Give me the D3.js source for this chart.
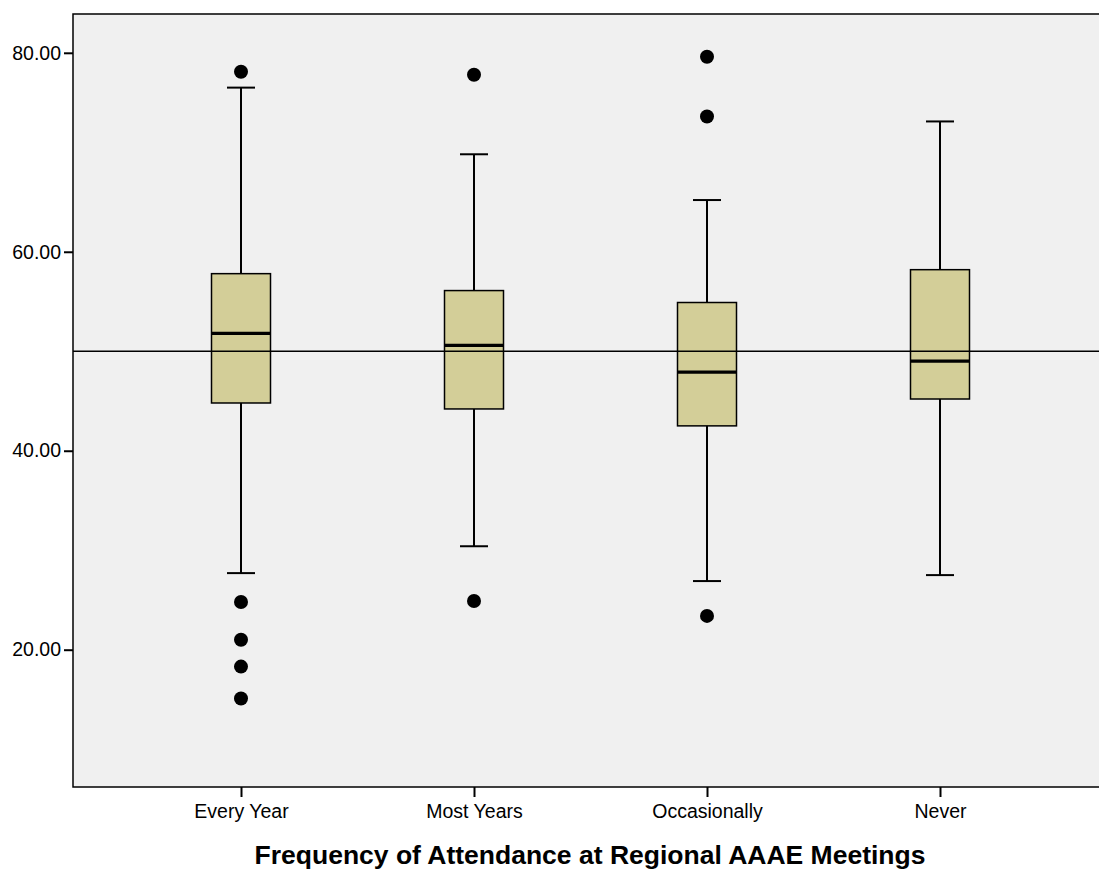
<!DOCTYPE html>
<html>
<head>
<meta charset="utf-8">
<script src="https://cdn.jsdelivr.net/npm/d3@7"></script>
<style>
  html, body { margin: 0; padding: 0; background: #ffffff; }
  svg { display: block; }
</style>
</head>
<body>
<svg id="chart" width="1099" height="871"></svg>
<script>
// Attendance groups
const categories = ["Every Year", "Most Years", "Occasionally", "Never"];
// Five-number summaries per group
const whiskerLow  = [27.7, 30.4, 26.9, 27.5];
const boxQ1       = [44.8, 44.2, 42.5, 45.2];
const medians     = [51.8, 50.6, 47.9, 49.0];
const boxQ3       = [57.8, 56.1, 54.9, 58.2];
const whiskerHigh = [76.5, 69.8, 65.2, 73.1];
// Outlying cases per group
const outliers = [
  [78.1, 24.8, 21.0, 18.3, 15.1],
  [77.8, 24.9],
  [79.6, 73.6, 23.4],
  []
];
const referenceValue = 50;
const yTicks = [20, 40, 60, 80];
const xTitle = "Frequency of Attendance at Regional AAAE Meetings";

const svg = d3.select("#chart");
const plot = { left: 73, top: 14, right: 1102, bottom: 787 };
const font = "Liberation Sans, Arial, sans-serif";

const x = d3.scalePoint().domain(categories).range([241, 940]);
const y = d3.scaleLinear().domain([6.2, 83.9]).range([plot.bottom, plot.top]);

const boxW = 59, capW = 28;

// plot background
svg.append("rect")
  .attr("x", plot.left).attr("y", plot.top)
  .attr("width", plot.right - plot.left).attr("height", plot.bottom - plot.top)
  .attr("fill", "#f0f0f0").attr("stroke", "#000").attr("stroke-width", 1.5);

// reference line
svg.append("line")
  .attr("x1", plot.left).attr("x2", plot.right)
  .attr("y1", y(referenceValue)).attr("y2", y(referenceValue))
  .attr("stroke", "#000").attr("stroke-width", 1.3);

const groups = svg.append("g").selectAll("g")
  .data(categories.map((c, i) => ({ c, i })))
  .join("g");

// whiskers
groups.append("line")
  .attr("x1", d => x(d.c)).attr("x2", d => x(d.c))
  .attr("y1", d => y(whiskerHigh[d.i])).attr("y2", d => y(boxQ3[d.i]))
  .attr("stroke", "#000").attr("stroke-width", 2);
groups.append("line")
  .attr("x1", d => x(d.c)).attr("x2", d => x(d.c))
  .attr("y1", d => y(boxQ1[d.i])).attr("y2", d => y(whiskerLow[d.i]))
  .attr("stroke", "#000").attr("stroke-width", 2);
// caps
[whiskerHigh, whiskerLow].forEach(arr => {
  groups.append("line")
    .attr("x1", d => x(d.c) - capW / 2).attr("x2", d => x(d.c) + capW / 2)
    .attr("y1", d => y(arr[d.i])).attr("y2", d => y(arr[d.i]))
    .attr("stroke", "#000").attr("stroke-width", 2);
});

// boxes
groups.append("rect")
  .attr("x", d => x(d.c) - boxW / 2)
  .attr("width", boxW)
  .attr("y", d => y(boxQ3[d.i]))
  .attr("height", d => y(boxQ1[d.i]) - y(boxQ3[d.i]))
  .attr("fill", "#d3ce98").attr("stroke", "#000").attr("stroke-width", 1.5);

// reference line crosses boxes
groups.append("line")
  .attr("x1", d => x(d.c) - boxW / 2).attr("x2", d => x(d.c) + boxW / 2)
  .attr("y1", y(referenceValue)).attr("y2", y(referenceValue))
  .attr("stroke", "#000").attr("stroke-width", 1.3);

// medians
groups.append("line")
  .attr("x1", d => x(d.c) - boxW / 2).attr("x2", d => x(d.c) + boxW / 2)
  .attr("y1", d => y(medians[d.i])).attr("y2", d => y(medians[d.i]))
  .attr("stroke", "#000").attr("stroke-width", 3.2);

// outliers
groups.selectAll("circle")
  .data(d => outliers[d.i].map(v => ({ c: d.c, v })))
  .join("circle")
  .attr("cx", d => x(d.c)).attr("cy", d => y(d.v))
  .attr("r", 7).attr("fill", "#000");

// axes
const yAxis = d3.axisLeft(y).tickValues(yTicks).tickFormat(d3.format(".2f"))
  .tickSize(9).tickPadding(3);
const gy = svg.append("g").attr("transform", `translate(${plot.left},0)`).call(yAxis);
gy.select(".domain").remove();
gy.selectAll(".tick line").attr("stroke", "#000").attr("stroke-width", 2);
gy.selectAll(".tick text").attr("font-family", font)
  .attr("font-size", 19.5).attr("fill", "#000");

const xAxis = d3.axisBottom(x).tickSize(10).tickPadding(7);
const gx = svg.append("g").attr("transform", `translate(0,${plot.bottom})`).call(xAxis);
gx.select(".domain").remove();
gx.selectAll(".tick line").attr("stroke", "#000").attr("stroke-width", 2);
gx.selectAll(".tick text").attr("font-family", font)
  .attr("font-size", 19.5).attr("fill", "#000");

// axis title
svg.append("text")
  .attr("x", 590).attr("y", 864)
  .attr("text-anchor", "middle")
  .attr("font-family", font)
  .attr("font-weight", "bold").attr("font-size", 26.5)
  .attr("fill", "#000")
  .text(xTitle);
</script>
</body>
</html>
